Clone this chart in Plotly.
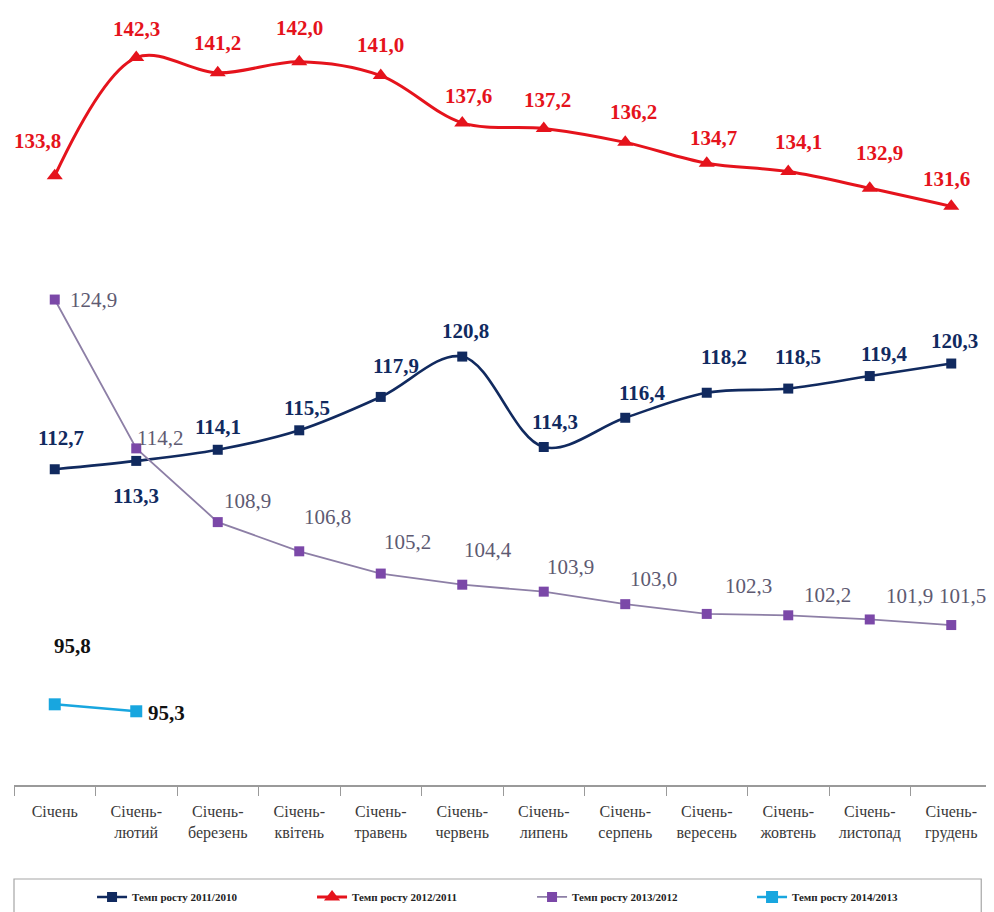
import plotly.graph_objects as go

categories = ["Січень", "Січень-<br>лютий", "Січень-<br>березень", "Січень-<br>квітень",
              "Січень-<br>травень", "Січень-<br>червень", "Січень-<br>липень", "Січень-<br>серпень",
              "Січень-<br>вересень", "Січень-<br>жовтень", "Січень-<br>листопад", "Січень-<br>грудень"]

s2011 = [112.7, 113.3, 114.1, 115.5, 117.9, 120.8, 114.3, 116.4, 118.2, 118.5, 119.4, 120.3]
s2012 = [133.8, 142.3, 141.2, 142.0, 141.0, 137.6, 137.2, 136.2, 134.7, 134.1, 132.9, 131.6]
s2013 = [124.9, 114.2, 108.9, 106.8, 105.2, 104.4, 103.9, 103.0, 102.3, 102.2, 101.9, 101.5]
s2014 = [95.8, 95.3]

names = ["Темп росту 2011/2010", "Темп росту 2012/2011", "Темп росту 2013/2012", "Темп росту 2014/2013"]

# label offsets (dx, dy) in pixels, style only
off2011 = [(6, 31), (0, -35), (0, 23), (8, 22), (15, 31), (3, 26), (11, 25), (17, 25), (17, 36), (10, 32), (15, 22), (3, 23)]
off2012 = [(-17, 35), (0, 29), (0, 30), (0, 34), (0, 31), (6, 27), (4, 28), (8, 30), (7, 25), (10, 30), (10, 35), (-5, 27)]
off2013 = [(39, 0), (24, 10), (30, 21), (28, 34), (27, 32), (26, 35), (27, 25), (28, 25), (42, 28), (39, 20), (40, 23), (11, 29)]
off2014 = [(18, 58), (30, -2)]

NAVY = "#112a5f"
RED = "#e5131c"
PURPLE_M = "#7b48a8"
PURPLE_L = "#8d7fa6"
PURPLE_T = "#5e5a72"
CYAN = "#18a6df"
FONT = "Liberation Serif, Times New Roman, serif"

fig = go.Figure()
fig.add_trace(go.Scatter(x=categories, y=s2011, name=names[0], mode="lines+markers",
                         line=dict(color=NAVY, width=2.6, shape="spline", smoothing=1),
                         marker=dict(symbol="square", size=10, color=NAVY)))
fig.add_trace(go.Scatter(x=categories, y=s2012, name=names[1], mode="lines+markers",
                         line=dict(color=RED, width=3, shape="spline", smoothing=1),
                         marker=dict(symbol="triangle-up", size=14, color=RED)))
fig.add_trace(go.Scatter(x=categories, y=s2013, name=names[2], mode="lines+markers",
                         line=dict(color=PURPLE_L, width=1.8),
                         marker=dict(symbol="square", size=10, color=PURPLE_M)))
fig.add_trace(go.Scatter(x=categories[:len(s2014)], y=s2014, name=names[3], mode="lines+markers",
                         line=dict(color=CYAN, width=2.5),
                         marker=dict(symbol="square", size=12, color=CYAN)))

def fmt(v):
    return f"{v:.1f}".replace(".", ",")

def add_labels(vals, offs, color, bold=True):
    for c, v, (dx, dy) in zip(categories, vals, offs):
        t = fmt(v)
        fig.add_annotation(x=c, y=v, xref="x", yref="y", text=f"<b>{t}</b>" if bold else t,
                           showarrow=False, xshift=dx, yshift=dy,
                           font=dict(family=FONT, size=21, color=color))

add_labels(s2011, off2011, NAVY)
add_labels(s2012, off2012, RED)
add_labels(s2013, off2013, PURPLE_T, bold=False)
add_labels(s2014, off2014, "#111111")

# legend border
fig.add_shape(type="rect", xref="paper", yref="paper", x0=0, x1=0.989, y0=-0.2, y1=-0.121,
              line=dict(color="#a6a6a6", width=1.2), fillcolor="rgba(0,0,0,0)")

fig.update_layout(
    width=986, height=904,
    margin=dict(l=6, r=2, t=0, b=127, autoexpand=False),
    paper_bgcolor="white", plot_bgcolor="white",
    showlegend=True,
    legend=dict(orientation="h", x=0.0798, xanchor="left", y=-0.1441, yanchor="middle",
                entrywidth=175, font=dict(family=FONT, size=11, color="#222222", weight="bold"),
                bgcolor="rgba(0,0,0,0)", itemwidth=30),
    xaxis=dict(type="category", range=[-0.5, 11.5], showline=True, linecolor="#9a9a9a", linewidth=1.5,
               ticks="outside", tickson="boundaries", ticklen=9, tickcolor="#9a9a9a",
               ticklabelstandoff=11,
               showgrid=False, zeroline=False,
               tickfont=dict(family=FONT, size=16, color="#3a3a3a")),
    yaxis=dict(visible=False, range=[90, 145.86], showgrid=False, zeroline=False),
)

fig.write_html("out.html")
